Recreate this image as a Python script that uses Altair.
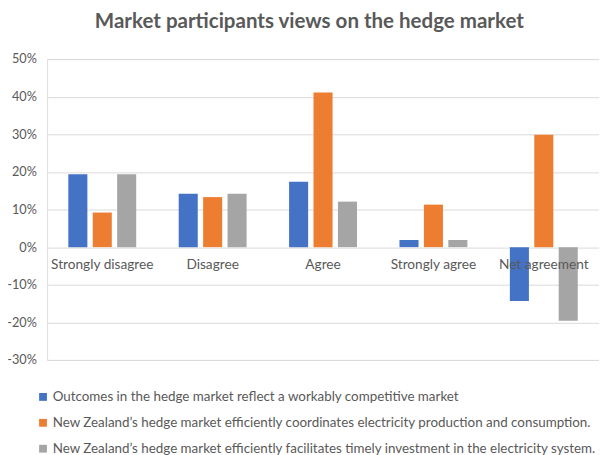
import altair as alt
import pandas as pd

categories = ["Strongly disagree", "Disagree", "Agree", "Strongly agree", "Net agreement"]
series = [
    "Outcomes in the hedge market reflect a workably competitive market",
    "New Zealand\u2019s hedge market efficiently coordinates electricity production and consumption.",
    "New Zealand\u2019s hedge market efficiently facilitates timely investment in the electricity system.",
]
competitive = [0.194, 0.142, 0.174, 0.019, -0.143]
coordinates = [0.092, 0.133, 0.411, 0.113, 0.299]
investment = [0.194, 0.142, 0.121, 0.019, -0.196]
colors = ["#4472C4", "#ED7D31", "#A5A5A5"]
y_ticks = [-0.3, -0.2, -0.1, 0.0, 0.1, 0.2, 0.3, 0.4, 0.5]

rows = []
for s, vals in zip(series, [competitive, coordinates, investment]):
    for c, v in zip(categories, vals):
        rows.append({"category": c, "series": s, "value": v})
df = pd.DataFrame(rows)

FONT = "Lato"
TXT = "#595959"

bars = alt.Chart(df).mark_bar().encode(
    x=alt.X("category:N", sort=categories,
            scale=alt.Scale(paddingInner=0, paddingOuter=0), axis=None),
    xOffset=alt.XOffset("series:N", sort=series,
                        scale=alt.Scale(paddingInner=0.22, paddingOuter=0.87)),
    y=alt.Y("value:Q", scale=alt.Scale(domain=[-0.3, 0.5], nice=False),
            axis=alt.Axis(values=y_ticks, tickCount=20, format=".0%", title=None,
                          domain=False, ticks=False, labelPadding=11,
                          gridColor="#d9d9d9", labelColor=TXT, labelFontSize=13,
                          labelFont=FONT, labelOverlap=False)),
    color=alt.Color("series:N", sort=series,
                    scale=alt.Scale(domain=series, range=colors),
                    legend=alt.Legend(orient="none", legendX=-11, legendY=339,
                                      direction="vertical", symbolType="square",
                                      symbolSize=64, symbolStrokeWidth=0,
                                      labelFontSize=13.7, labelFont=FONT,
                                      labelColor=TXT, labelLimit=0, rowPadding=11.5,
                                      padding=0, labelOffset=3, title=None)),
)

labels = alt.Chart(pd.DataFrame({"category": categories})).mark_text(
    dy=18, fontSize=14, font=FONT, color=TXT
).encode(
    x=alt.X("category:N", sort=categories),
    y=alt.datum(0),
    text="category:N",
)

chart = alt.layer(bars, labels).properties(
    width=565,
    height=308,
    padding={"left": 40, "top": 47, "right": 0, "bottom": 92},
    autosize="none",
    title=alt.Title("Market participants views on the hedge market", font=FONT,
                    fontSize=21, fontWeight="bold", color=TXT, anchor="middle",
                    frame="group", dx=-14, baseline="alphabetic", offset=5),
).configure_view(stroke=None).configure(
    locale={"number": {"decimal": ".", "thousands": ",", "grouping": [3],
                       "currency": ["$", ""], "minus": "-"}}
)

chart.save("out.html", embed_options={"renderer": "svg", "actions": False})
